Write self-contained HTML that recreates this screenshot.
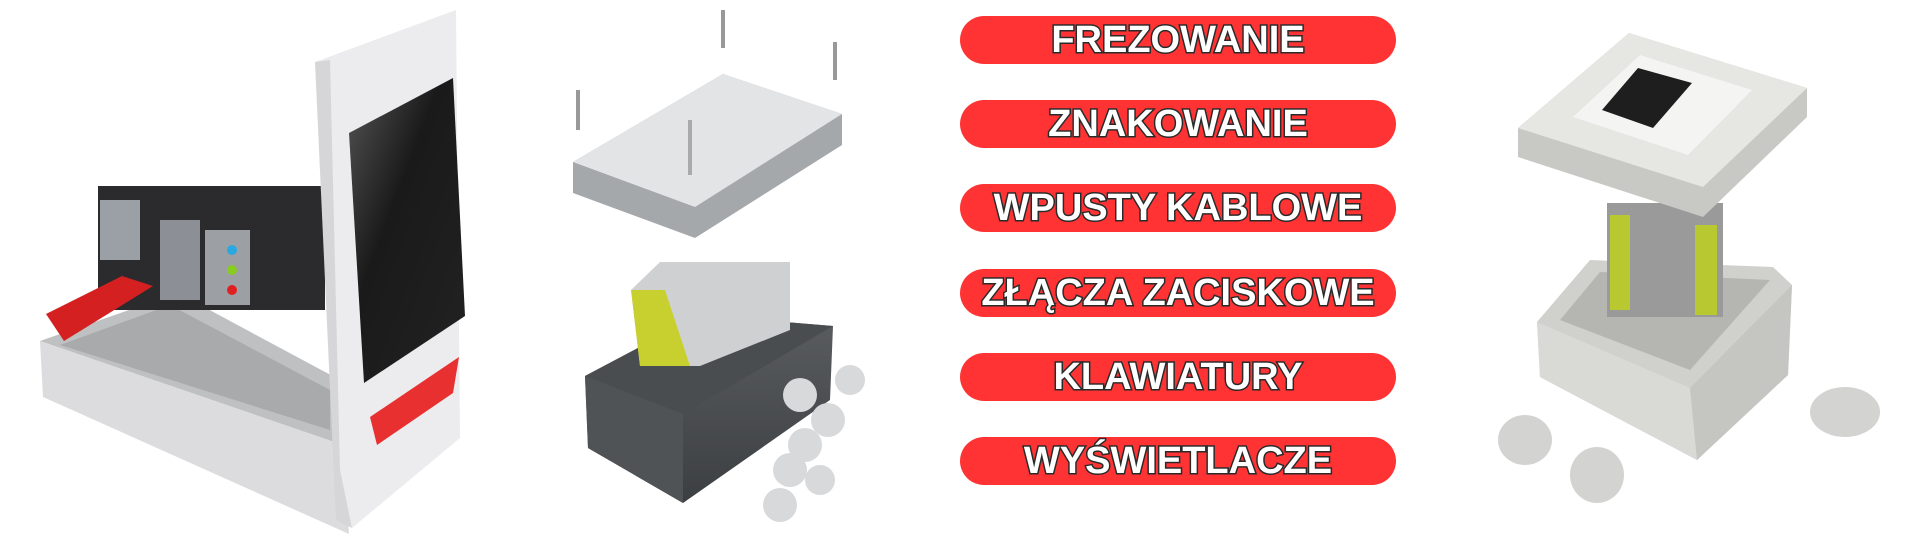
<!DOCTYPE html>
<html><head><meta charset="utf-8"><style>
html,body{margin:0;padding:0;background:#fff;width:1920px;height:540px;overflow:hidden}
.btn{position:absolute;left:960px;width:436px;height:48px;border-radius:24px;background:#ff3333;
 font-family:"Liberation Sans",sans-serif;font-weight:bold;font-size:38px;line-height:48px;text-align:center;color:#fff;
 -webkit-text-stroke:3px #2a2a2a;paint-order:stroke fill;white-space:nowrap;letter-spacing:0px}
svg{position:absolute;left:0;top:0}
</style></head><body>
<svg width="1920" height="540" viewBox="0 0 1920 540">
<defs>
<linearGradient id="scr" x1="0" y1="0" x2="1" y2="1"><stop offset="0" stop-color="#555"/><stop offset="0.4" stop-color="#1a1a1a"/><stop offset="1" stop-color="#222"/></linearGradient>
<linearGradient id="dk" x1="0" y1="0" x2="0" y2="1"><stop offset="0" stop-color="#5a5d60"/><stop offset="1" stop-color="#3c3f42"/></linearGradient>
</defs>
<!-- LEFT PRODUCT -->
<polygon points="40,341 178,293 340,380 343,445" fill="#bfc0c2"/>
<polygon points="40,341 343,445 349,534 43,397" fill="#dcdcde"/>
<polygon points="60,345 170,305 330,390 330,430" fill="#a9aaac"/>
<rect x="98" y="186" width="227" height="124" fill="#2b2b2d"/>
<rect x="100" y="200" width="40" height="60" fill="#9aa0a6"/>
<rect x="160" y="220" width="40" height="80" fill="#8c9096"/>
<rect x="205" y="230" width="45" height="75" fill="#9ca0a4"/>
<circle cx="232" cy="250" r="5" fill="#2aa8e0"/><circle cx="232" cy="270" r="5" fill="#88cc22"/><circle cx="232" cy="290" r="5" fill="#e02020"/>
<polygon points="46,314 122,276 153,286 64,341" fill="#d42020"/>
<polygon points="315,62 456,10 460,438 352,528 340,470" fill="#ececee"/>
<polygon points="315,62 330,60 340,470 352,528 336,520" fill="#d6d6d8"/>
<polygon points="349,133 453,78 465,316 364,383" fill="url(#scr)"/>
<polygon points="370,417 459,357 453,393 377,445" fill="#e83030"/>
<!-- MIDDLE PRODUCT -->
<line x1="723" y1="10" x2="723" y2="48" stroke="#999" stroke-width="4"/>
<line x1="835" y1="42" x2="835" y2="80" stroke="#999" stroke-width="4"/>
<line x1="578" y1="90" x2="578" y2="130" stroke="#999" stroke-width="4"/>
<polygon points="573,162 723,74 842,114 842,145 695,238 573,193" fill="#a5a8ab"/>
<polygon points="573,162 723,74 842,114 695,207" fill="#e2e4e6"/>
<line x1="690" y1="120" x2="690" y2="175" stroke="#aaa" stroke-width="4"/>
<polygon points="585,376 700,315 833,326 830,400 683,503 588,448" fill="url(#dk)"/>
<polygon points="585,376 700,315 833,326 683,414" fill="#4a4d50"/>
<polygon points="585,376 683,414 683,503 588,448" fill="#505356"/>
<polygon points="660,262 790,262 790,330 700,366 640,366 631,290" fill="#cfd0d2"/>
<polygon points="631,290 665,290 690,366 640,366" fill="#c8d030"/>
<g fill="#d8d9db"><circle cx="800" cy="395" r="17"/><circle cx="828" cy="420" r="17"/><circle cx="805" cy="445" r="17"/><circle cx="850" cy="380" r="15"/><circle cx="790" cy="470" r="17"/><circle cx="780" cy="505" r="17"/><circle cx="820" cy="480" r="15"/></g>
<!-- RIGHT PRODUCT -->
<polygon points="1537,322 1590,260 1773,267 1792,285 1788,375 1697,460 1540,377" fill="#d0d1cd"/>
<polygon points="1537,322 1690,388 1697,460 1540,377" fill="#d9dad6"/>
<polygon points="1690,388 1792,285 1788,375 1697,460" fill="#c5c6c2"/>
<polygon points="1560,320 1600,272 1770,280 1690,370" fill="#b5b6b2"/>
<rect x="1607" y="203" width="116" height="114" fill="#9a9a9a"/>
<rect x="1610" y="215" width="20" height="95" fill="#b8c830"/>
<rect x="1695" y="225" width="22" height="90" fill="#b8c830"/>
<polygon points="1518,128 1629,33 1807,88 1807,117 1703,217 1518,157" fill="#c8c9c4"/>
<polygon points="1518,128 1629,33 1807,88 1703,187" fill="#e6e7e3"/>
<polygon points="1573,117 1640,55 1752,90 1688,155" fill="#f4f4f2"/>
<polygon points="1602,110 1638,68 1692,83 1653,128" fill="#1e1e1e"/>
<g fill="#d3d4d2"><ellipse cx="1525" cy="440" rx="27" ry="25"/><ellipse cx="1597" cy="475" rx="27" ry="28"/><ellipse cx="1845" cy="412" rx="35" ry="25"/></g>
</svg>
<div class="btn" style="top:16px">FREZOWANIE</div>
<div class="btn" style="top:100px">ZNAKOWANIE</div>
<div class="btn" style="top:184px">WPUSTY KABLOWE</div>
<div class="btn" style="top:269px">ZŁĄCZA ZACISKOWE</div>
<div class="btn" style="top:353px">KLAWIATURY</div>
<div class="btn" style="top:437px">WYŚWIETLACZE</div>
</body></html>
